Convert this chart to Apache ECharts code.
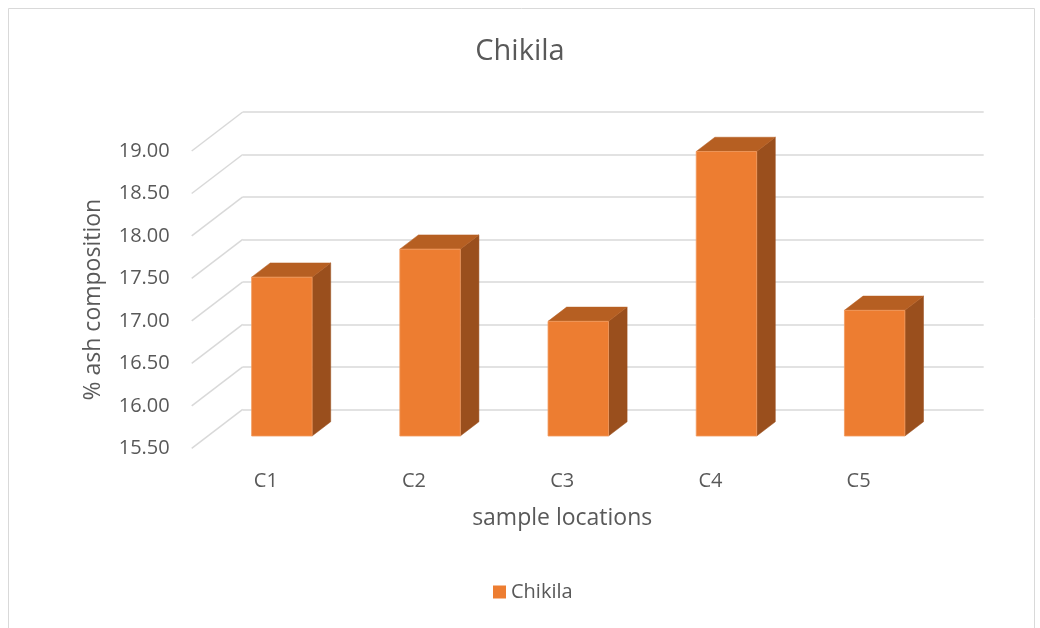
<!DOCTYPE html>
<html>
<head>
<meta charset="utf-8">
<title>Chikila</title>
<script src="https://cdn.jsdelivr.net/npm/echarts@6/dist/echarts.min.js"></script>
<style>
  html, body { margin: 0; padding: 0; background: #ffffff; }
  #chart { width: 1040px; height: 628px; }
</style>
</head>
<body>
<div id="chart"></div>
<script>
// Sample locations and their ash composition (%)
var categories = ['C1', 'C2', 'C3', 'C4', 'C5'];
var ashValues = [17.37, 17.70, 16.85, 18.85, 16.98];
var valueTicks = [15.5, 16.0, 16.5, 17.0, 17.5, 18.0, 18.5, 19.0];

var Y_MIN = 15.5, Y_MAX = 19.0, Y_STEP = 0.5;

// Oblique projection of the depth axis (pixels from front floor edge to back wall)
var DX = 51, DY = -39;
var BAR_FRONT = 0.315, BAR_BACK = 0.68, BAR_WIDTH = 0.408;

var FONT = '"Open Sans", "Noto Sans", sans-serif';
var TEXT = '#595959';
var GRID_LINE = '#d9d9d9';

var chart = echarts.init(document.getElementById('chart'), null, { renderer: 'canvas' });

// Left wall: slanted lines joining each front tick to the back wall
function renderWallLine(params, api) {
  var cs = params.coordSys;
  var p = api.coord([0, api.value(0)]);
  var x = cs.x, y = p[1];
  return {
    type: 'line',
    shape: { x1: x, y1: y, x2: x + DX, y2: y + DY },
    style: { stroke: GRID_LINE, lineWidth: 1.5 },
    silent: true
  };
}

// 3D column: front face, top face and right side face
function renderColumn(params, api) {
  var idx = api.value(0), val = api.value(1);
  var band = api.size([1, 0])[0];
  var w = band * BAR_WIDTH;
  var base = api.coord([idx, Y_MIN]);
  var top = api.coord([idx, val]);
  var fx = BAR_FRONT * DX, fy = BAR_FRONT * DY;
  var dx = (BAR_BACK - BAR_FRONT) * DX, dy = (BAR_BACK - BAR_FRONT) * DY;
  var x0 = base[0] - w / 2 + fx, x1 = x0 + w;
  var yb = base[1] + fy, yt = top[1] + fy;
  return {
    type: 'group',
    children: [
      {
        type: 'polygon',
        shape: { points: [[x1, yb], [x1 + dx, yb + dy], [x1 + dx, yt + dy], [x1, yt]] },
        style: { fill: '#9a4f1d', stroke: '#9a4f1d', lineWidth: 0.5 }
      },
      {
        type: 'polygon',
        shape: { points: [[x0, yt], [x1, yt], [x1 + dx, yt + dy], [x0 + dx, yt + dy]] },
        style: { fill: '#b65f22', stroke: '#b65f22', lineWidth: 0.5 }
      },
      {
        type: 'rect',
        shape: { x: x0, y: yt, width: w, height: yb - yt },
        style: { fill: '#ed7d31', stroke: '#f19a5e', lineWidth: 0.8 }
      }
    ]
  };
}

var option = {
  backgroundColor: '#ffffff',
  animation: false,
  title: {
    text: 'Chikila',
    left: 'center',
    top: 32,
    textStyle: { fontFamily: FONT, fontSize: 29, fontWeight: 'normal', color: TEXT }
  },
  legend: {
    data: ['Chikila'],
    top: 582,
    left: 493,
    padding: 0,
    icon: 'rect',
    itemWidth: 13,
    itemHeight: 13,
    itemGap: 6,
    textStyle: { fontFamily: FONT, fontSize: 20, color: TEXT }
  },
  graphic: [
    {
      type: 'rect',
      shape: { x: 8.5, y: 8.5, width: 1026, height: 640 },
      style: { fill: 'none', stroke: '#d9d9d9', lineWidth: 1 },
      silent: true,
      z: -10
    }
  ],
  grid: [
    { left: 191.7, top: 151, width: 741, height: 297.3 },
    { left: 242.7, top: 112, width: 741, height: 297.3 }
  ],
  xAxis: [
    {
      gridIndex: 0,
      type: 'category',
      data: categories,
      name: 'sample locations',
      nameLocation: 'middle',
      nameGap: 59,
      nameTextStyle: { fontFamily: FONT, fontSize: 23, color: TEXT },
      axisLine: { show: false },
      axisTick: { show: false },
      axisLabel: { margin: 23, fontFamily: FONT, fontSize: 20, color: TEXT },
      splitLine: { show: false }
    },
    {
      gridIndex: 1,
      type: 'category',
      data: categories,
      show: false
    }
  ],
  yAxis: [
    {
      gridIndex: 0,
      type: 'value',
      min: Y_MIN,
      max: Y_MAX,
      interval: Y_STEP,
      name: '% ash composition',
      nameLocation: 'middle',
      nameGap: 87,
      nameRotate: 90,
      nameTextStyle: { fontFamily: FONT, fontSize: 23, color: TEXT },
      axisLine: { show: false },
      axisTick: { show: false },
      splitLine: { show: false },
      axisLabel: {
        margin: 22,
        fontFamily: FONT,
        fontSize: 20,
        color: TEXT,
        formatter: function (v) { return v.toFixed(2); }
      }
    },
    {
      gridIndex: 1,
      type: 'value',
      min: Y_MIN,
      max: Y_MAX,
      interval: Y_STEP,
      axisLine: { show: false },
      axisTick: { show: false },
      axisLabel: { show: false },
      splitLine: { show: true, lineStyle: { color: GRID_LINE, width: 1.5 } }
    }
  ],
  series: [
    {
      type: 'custom',
      name: 'wall',
      xAxisIndex: 0,
      yAxisIndex: 0,
      renderItem: renderWallLine,
      data: valueTicks.map(function (v) { return [v]; }),
      encode: { y: 0 },
      silent: true,
      z: 1
    },
    {
      type: 'custom',
      name: 'Chikila',
      xAxisIndex: 0,
      yAxisIndex: 0,
      itemStyle: { color: '#ed7d31' },
      renderItem: renderColumn,
      data: ashValues.map(function (v, i) { return [i, v]; }),
      encode: { x: 0, y: 1 },
      z: 5
    }
  ]
};

chart.setOption(option);
</script>
</body>
</html>
